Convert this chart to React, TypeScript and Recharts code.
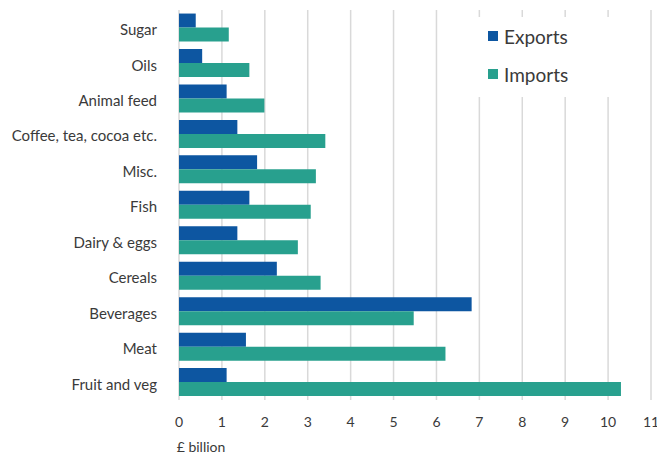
import React from 'react';
import { BarChart, Bar, XAxis, YAxis, CartesianGrid, Legend, Label } from 'recharts';

const categories = ['Sugar', 'Oils', 'Animal feed', 'Coffee, tea, cocoa etc.', 'Misc.', 'Fish', 'Dairy & eggs', 'Cereals', 'Beverages', 'Meat', 'Fruit and veg'];
const exportsValues = [0.39, 0.54, 1.11, 1.36, 1.82, 1.64, 1.36, 2.28, 6.82, 1.56, 1.11];
const importsValues = [1.16, 1.64, 1.99, 3.41, 3.19, 3.07, 2.77, 3.30, 5.47, 6.21, 10.30];
const xTicks = [0, 1, 2, 3, 4, 5, 6, 7, 8, 9, 10, 11];

const data = categories.map((name, i) => ({ name, Exports: exportsValues[i], Imports: importsValues[i] }));

const EXPORT_COLOR = '#0d56a1';
const IMPORT_COLOR = '#28a08e';
const FONT = 'Lato, "Open Sans", sans-serif';
const TEXT = '#3a3a3a';

const LegendContent = (props: any) => {
  const items = props.payload || [];
  return (
    <div style={{ background: '#fff', width: 170, height: 80, fontFamily: FONT }}>
      {items.map((it: any, i: number) => (
        <div key={i} style={{ display: 'flex', alignItems: 'center', height: 38, paddingLeft: 18, fontSize: 19, color: TEXT }}>
          <span style={{ display: 'inline-block', width: 10, height: 10, background: it.color, marginRight: 6 }} />
          <span>{it.value}</span>
        </div>
      ))}
    </div>
  );
};

const AxisTitle = (props: any) => {
  const vb = props.viewBox || { x: 0, y: 0 };
  return (
    <text x={vb.x + 22} y={vb.y + 48} textAnchor="middle" dominantBaseline="middle" fontFamily={FONT} fontSize={14} fill={TEXT}>
      £ billion
    </text>
  );
};

export default function App() {
  return (
    <div style={{ position: 'absolute', left: 0, top: 0, width: 657, height: 456, background: '#fff' }}>
      <BarChart
        width={657}
        height={456}
        data={data}
        layout="vertical"
        margin={{ top: 10, right: 6, bottom: 0, left: 0 }}
        barCategoryGap="10%"
        barGap={0}
      >
        <CartesianGrid horizontal={false} stroke="#d9d9d9" strokeWidth={1.5} />
        <XAxis
          type="number"
          domain={[0, 11]}
          ticks={xTicks}
          interval={0}
          height={56}
          axisLine={false}
          tickLine={false}
          tickSize={0}
          tickMargin={17}
          tick={{ fontFamily: FONT, fontSize: 14, fill: TEXT }}
        >
          <Label content={<AxisTitle />} />
        </XAxis>
        <YAxis
          type="category"
          dataKey="name"
          width={179}
          axisLine={false}
          tickLine={false}
          tickSize={0}
          tickMargin={22}
          interval={0}
          tick={{ fontFamily: FONT, fontSize: 15, fill: TEXT, dy: 2 }}
        />
        <Legend
          layout="vertical"
          align="center"
          verticalAlign="middle"
          content={<LegendContent />}
          wrapperStyle={{ position: 'absolute', top: 17, left: 470, width: 170, height: 80 }}
        />
        <Bar dataKey="Exports" fill={EXPORT_COLOR} isAnimationActive={false} />
        <Bar dataKey="Imports" fill={IMPORT_COLOR} isAnimationActive={false} />
      </BarChart>
    </div>
  );
}
